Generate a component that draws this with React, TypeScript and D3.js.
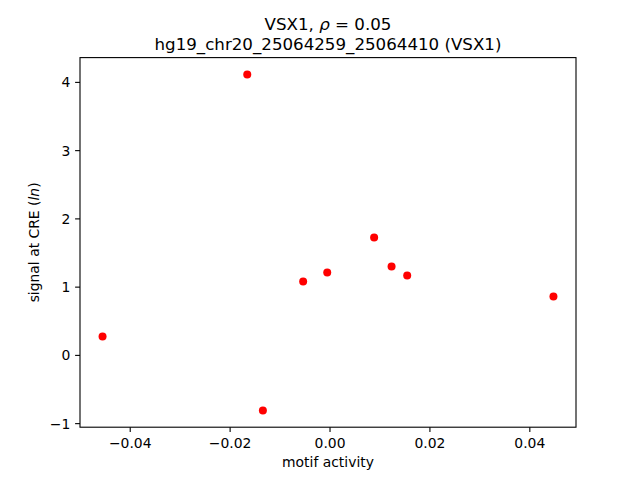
import React from "react";
import * as d3 from "d3";

const motifActivity = [-0.04554, -0.01657, -0.01344, -0.00538, -0.00056, 0.00883, 0.01232, 0.01545, 0.04473];
const signalAtCRE = [0.278, 4.117, -0.806, 1.084, 1.216, 1.729, 1.304, 1.172, 0.864];
const xTicks = [-0.04, -0.02, 0.0, 0.02, 0.04];
const yTicks = [-1, 0, 1, 2, 3, 4];
const titleGene = "VSX1";
const titleRho = "0.05";
const titleLine2 = "hg19_chr20_25064259_25064410 (VSX1)";
const xLabel = "motif activity";

const W = 640, H = 480;
const L = 80, R = 576, T = 57.6, B = 427.2;
const FONT = "DejaVu Sans, sans-serif";

function pad(ext: [number, number]): [number, number] {
  const s = ext[1] - ext[0];
  return [ext[0] - 0.05 * s, ext[1] + 0.05 * s];
}

export default function App() {
  const x = d3.scaleLinear().domain(pad(d3.extent(motifActivity) as [number, number])).range([L, R]);
  const y = d3.scaleLinear().domain(pad(d3.extent(signalAtCRE) as [number, number])).range([B, T]);
  const pts = motifActivity.map((v, i) => [v, signalAtCRE[i]]);
  return (
    <div style={{ position: "fixed", left: 0, top: 0 }}>
      <svg width={W} height={H} style={{ display: "block", background: "#fff" }} fontFamily={FONT}>
        <rect x={0} y={0} width={W} height={H} fill="#fff" />
        {pts.map((p, i) => (
          <circle key={i} cx={x(p[0])} cy={y(p[1])} r={4} fill="#ff0000" />
        ))}
        <rect x={L} y={T} width={R - L} height={B - T} fill="none" stroke="#000" strokeWidth={1.1} />
        {xTicks.map((t) => (
          <g key={t} transform={`translate(${x(t)},${B})`}>
            <line y1={0} y2={4.9} stroke="#000" strokeWidth={1.1} />
            <text y={21} textAnchor="middle" fontSize={13.9} fill="#000">
              {d3.format(".2f")(t).replace("-", "\u2212")}
            </text>
          </g>
        ))}
        {yTicks.map((t) => (
          <g key={t} transform={`translate(${L},${y(t)})`}>
            <line x1={0} x2={-4.9} stroke="#000" strokeWidth={1.1} />
            <text x={-9.7} dy="0.35em" textAnchor="end" fontSize={13.9} fill="#000">
              {String(t).replace("-", "\u2212")}
            </text>
          </g>
        ))}
        <text x={(L + R) / 2} y={467} textAnchor="middle" fontSize={13.9} fill="#000">{xLabel}</text>
        <text transform={`translate(39,${(T + B) / 2}) rotate(-90)`} textAnchor="middle" fontSize={13.9} fill="#000">
          signal at CRE (<tspan fontStyle="italic">ln</tspan>)
        </text>
        <text x={(L + R) / 2} y={30} textAnchor="middle" fontSize={16.67} fill="#000">
          {titleGene}, <tspan fontStyle="italic">ρ</tspan> = {titleRho}
        </text>
        <text x={(L + R) / 2} y={50} textAnchor="middle" fontSize={16.67} fill="#000">{titleLine2}</text>
      </svg>
    </div>
  );
}
